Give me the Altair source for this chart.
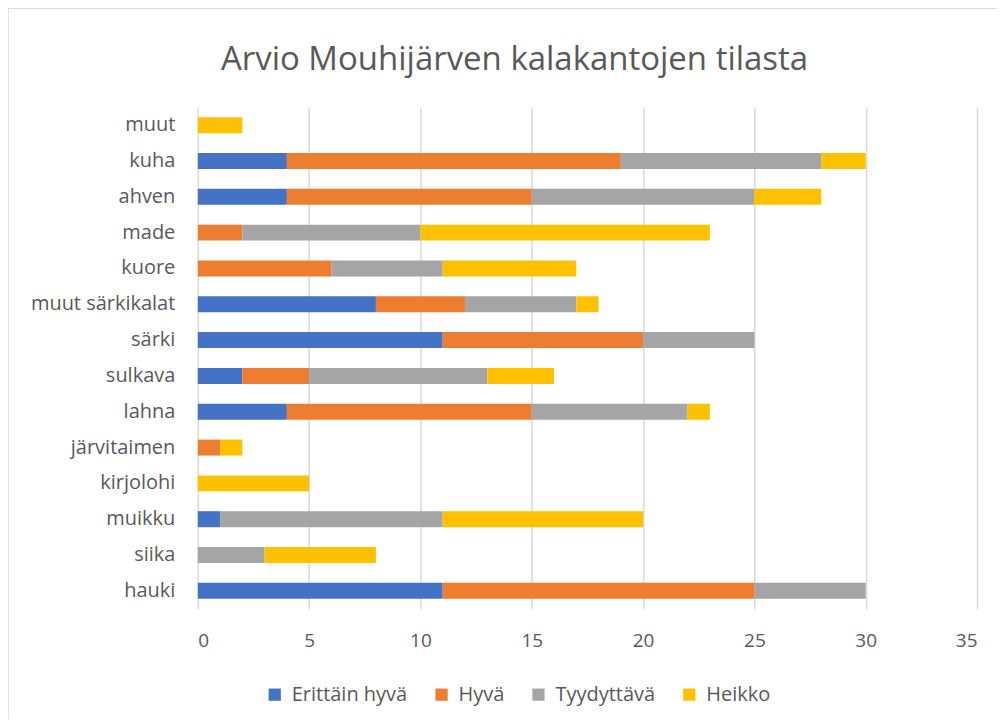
import altair as alt
import pandas as pd

categories = ["muut", "kuha", "ahven", "made", "kuore", "muut särkikalat", "särki",
              "sulkava", "lahna", "järvitaimen", "kirjolohi", "muikku", "siika", "hauki"]
series = ["Erittäin hyvä", "Hyvä", "Tyydyttävä", "Heikko"]
erittain_hyva = [0, 4, 4, 0, 0, 8, 11, 2, 4, 0, 0, 1, 0, 11]
hyva =          [0, 15, 11, 2, 6, 4, 9, 3, 11, 1, 0, 0, 0, 14]
tyydyttava =    [0, 9, 10, 8, 5, 5, 5, 8, 7, 0, 0, 10, 3, 5]
heikko =        [2, 2, 3, 13, 6, 1, 0, 3, 1, 1, 5, 9, 5, 0]
colors = ["#4472C4", "#ED7D31", "#A5A5A5", "#FFC000"]
x_ticks = [0, 5, 10, 15, 20, 25, 30, 35]

rows = []
for s_i, vals in enumerate([erittain_hyva, hyva, tyydyttava, heikko]):
    for c, v in zip(categories, vals):
        rows.append({"laji": c, "arvio": series[s_i], "order": s_i, "arvo": v})
df = pd.DataFrame(rows)

FONT = "Open Sans"
GREY = "#595959"

bars = alt.Chart(df).mark_bar(size=16).encode(
    y=alt.Y("laji:N", sort=categories, title=None,
            scale=alt.Scale(paddingInner=0.55, paddingOuter=0.275),
            axis=alt.Axis(domain=False, ticks=False, labelPadding=23,
                          labelFontSize=20, labelColor=GREY, labelFont=FONT,
                          grid=False)),
    x=alt.X("arvo:Q", stack="zero", title=None,
            scale=alt.Scale(domain=[0, 35], nice=False),
            axis=alt.Axis(values=x_ticks, domain=False, ticks=False,
                          labelPadding=23, labelFontSize=19, labelColor=GREY,
                          labelFont=FONT, grid=True, gridColor="#D9D9D9",
                          gridWidth=1.5)),
    color=alt.Color("arvio:N", sort=series,
                    scale=alt.Scale(domain=series, range=colors),
                    legend=alt.Legend(title=None, orient="none", direction="horizontal",
                                      legendX=67, legendY=578, symbolType="square",
                                      symbolSize=150, symbolStrokeWidth=0,
                                      labelFontSize=20, labelColor=GREY, labelFont=FONT,
                                      columnPadding=24, labelOffset=7)),
    order=alt.Order("order:Q"),
)

frame = alt.Chart(pd.DataFrame({"f": [0]})).mark_rule(color="#D9D9D9", strokeWidth=1.5).encode(
    x=alt.value(-190), y=alt.value(-100), y2=alt.value(620)
)
frame_top = alt.Chart(pd.DataFrame({"f": [0]})).mark_rule(color="#D9D9D9", strokeWidth=1.5).encode(
    x=alt.value(-190), x2=alt.value(810), y=alt.value(-99)
)

chart = alt.layer(bars, frame, frame_top).properties(
    width=780, height=502,
    autosize=alt.AutoSizeParams(type="none"),
    padding={"left": 190, "top": 99, "right": 20, "bottom": 110},
    title=alt.TitleParams("Arvio Mouhijärven kalakantojen tilasta", font=FONT,
                          fontSize=33, fontWeight="normal", color=GREY,
                          anchor="middle", frame="group", dx=-73, offset=-70),
).configure_view(stroke=None)

chart.save("out.html", embed_options={"renderer": "svg", "actions": False})
